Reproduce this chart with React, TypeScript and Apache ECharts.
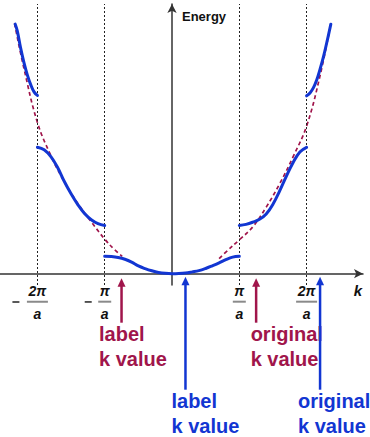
import React, { useEffect, useRef } from "react";
import * as echarts from "echarts";

// Reduced-zone band picture: k in units of π/a, energy in units of the free-electron value at k = π/a
const kOuterLeft = [-2.33, -2.3, -2.25, -2.2, -2.15, -2.1, -2.05, -2.0];
const eOuterLeft = [6.93, 6.75, 6.27, 5.86, 5.52, 5.25, 5.05, 4.95];

const kBand2Left = [-2.0, -1.9, -1.8, -1.7, -1.6, -1.5, -1.4, -1.3, -1.2, -1.1, -1.0];
const eBand2Left = [3.51, 3.44, 3.25, 2.95, 2.56, 2.22, 1.92, 1.67, 1.5, 1.39, 1.34];

const kBand1 = [-1.0, -0.9, -0.8, -0.7, -0.6, -0.5, -0.4, -0.3, -0.2, -0.1, 0, 0.1, 0.2, 0.3, 0.4, 0.5, 0.6, 0.7, 0.8, 0.9, 1.0];
const eBand1 = [0.483, 0.476, 0.45, 0.4, 0.32, 0.215, 0.14, 0.08, 0.035, 0.01, 0, 0.005, 0.02, 0.05, 0.085, 0.145, 0.22, 0.3, 0.39, 0.46, 0.483];

const kBand2Right = [1.0, 1.1, 1.2, 1.3, 1.4, 1.5, 1.6, 1.7, 1.8, 1.9, 2.0];
const eBand2Right = [1.34, 1.37, 1.43, 1.51, 1.66, 1.93, 2.3, 2.71, 3.09, 3.38, 3.51];

const kOuterRight = [2.0, 2.05, 2.1, 2.15, 2.2, 2.25, 2.3, 2.36];
const eOuterRight = [4.94, 5.02, 5.16, 5.38, 5.68, 6.02, 6.42, 6.93];

// Free-electron parabola (dashed), drawn outside the lowest band where it separates from it
const kFreeLeft = [-2.34, -2.2, -2.0, -1.8, -1.6, -1.4, -1.2, -1.0, -0.85, -0.74];
const eFreeLeft = [6.95, 5.7, 4.2, 3.28, 2.55, 1.95, 1.44, 0.96, 0.66, 0.48];
const kFreeRight = [0.7, 0.8, 1.0, 1.2, 1.4, 1.6, 1.8, 2.0, 2.2, 2.36];
const eFreeRight = [0.42, 0.6, 0.94, 1.3, 1.85, 2.5, 3.25, 4.1, 5.5, 6.95];

// Zone boundaries and their labels
const kTicks = [-2, -1, 1, 2];
const tickNumerators = ["2π", "π", "π", "2π"];
const tickDenominator = "a";

// Annotation arrows
const arrowK = [-0.75, 1.25, 0.2, 2.2];
const arrowLines = [
  ["label", "k value"],
  ["original", "k value"],
  ["label", "k value"],
  ["original", "k value"],
];
const arrowKind = ["red", "red", "blue", "blue"];

const BLUE = "#1236D2";
const RED = "#A0154B";
const FONT = '"Liberation Sans", Arial, Helvetica, sans-serif';

const pairs = (ks: number[], es: number[]) => ks.map((k, i) => [k, es[i]]);

const bandSeries = (ks: number[], es: number[]) => ({
  type: "line",
  data: pairs(ks, es),
  smooth: 0.4,
  symbol: "none",
  z: 5,
  lineStyle: { color: BLUE, width: 3, cap: "round", join: "round" },
});

const freeSeries = (ks: number[], es: number[]) => ({
  type: "line",
  data: pairs(ks, es),
  smooth: 0.4,
  symbol: "none",
  z: 3,
  lineStyle: { color: RED, width: 1.7, type: [4, 3] },
});

export default function App() {
  const ref = useRef<HTMLDivElement>(null);

  useEffect(() => {
    if (!ref.current) return;
    const chart = echarts.init(ref.current, null, { renderer: "svg" });

    const option: any = {
      animation: false,
      grid: { left: 0, right: 7, top: 4, bottom: 152, containLabel: false },
      xAxis: {
        type: "value",
        min: -2.556,
        max: 2.838,
        axisLine: {
          show: true,
          onZero: true,
          symbol: ["none", "arrow"],
          symbolSize: [7, 9],
          lineStyle: { color: "#333", width: 1.5 },
        },
        axisTick: { show: false },
        axisLabel: { show: false },
        splitLine: { show: false },
      },
      yAxis: {
        type: "value",
        min: -0.314,
        max: 7.49,
        axisLine: {
          show: true,
          onZero: true,
          symbol: ["none", "arrow"],
          symbolSize: [7, 9],
          lineStyle: { color: "#333", width: 1.5 },
        },
        axisTick: { show: false },
        axisLabel: { show: false },
        splitLine: { show: false },
      },
      series: [
        {
          ...freeSeries(kFreeLeft, eFreeLeft),
          markLine: {
            silent: true,
            symbol: "none",
            label: { show: false },
            lineStyle: { color: "#222", width: 1, type: [2, 2] },
            data: kTicks.map((k) => ({ xAxis: k })),
          },
        },
        freeSeries(kFreeRight, eFreeRight),
        bandSeries(kOuterLeft, eOuterLeft),
        bandSeries(kBand2Left, eBand2Left),
        bandSeries(kBand1, eBand1),
        bandSeries(kBand2Right, eBand2Right),
        bandSeries(kOuterRight, eOuterRight),
      ],
    };
    chart.setOption(option);

    const toPx = (k: number, e: number) => chart.convertToPixel({ gridIndex: 0 }, [k, e]) as number[];
    const origin = toPx(0, 0);
    const axisY = origin[1];
    const graphic: any[] = [];

    // Energy title beside the vertical axis
    graphic.push({
      type: "text",
      x: origin[0] + 10,
      y: 16,
      style: { text: "Energy", font: `bold 13px ${FONT}`, fill: "#111", verticalAlign: "middle", align: "left" },
    });
    // k label at the end of the horizontal axis
    graphic.push({
      type: "text",
      x: 358,
      y: axisY + 17,
      style: { text: "k", font: `italic bold 15px ${FONT}`, fill: "#111", verticalAlign: "middle", align: "center" },
    });

    // Fraction labels at the zone boundaries
    kTicks.forEach((k, i) => {
      const x = toPx(k, 0)[0];
      const num = tickNumerators[i];
      const barW = num.length > 1 ? 21 : 13;
      graphic.push({
        type: "text",
        x,
        y: axisY + 17,
        style: { text: num, font: `italic bold 14px ${FONT}`, fill: "#111", align: "center", verticalAlign: "middle" },
      });
      graphic.push({
        type: "rect",
        shape: { x: x - barW / 2, y: axisY + 27, width: barW, height: 2 },
        style: { fill: "#8a8a8a" },
      });
      graphic.push({
        type: "text",
        x,
        y: axisY + 40,
        style: { text: tickDenominator, font: `italic bold 14px ${FONT}`, fill: "#111", align: "center", verticalAlign: "middle" },
      });
      if (k < 0) {
        graphic.push({
          type: "rect",
          shape: { x: x - (num.length > 1 ? 25 : 20), y: axisY + 27.5, width: 7, height: 1.5 },
          style: { fill: "#222" },
        });
      }
    });

    // Arrows pointing at k values, with their captions
    arrowK.forEach((k, i) => {
      const x = toPx(k, 0)[0];
      const red = arrowKind[i] === "red";
      const color = red ? RED : BLUE;
      const tip = red ? axisY + 4.5 : axisY + 3;
      const bottom = red ? axisY + 49 : axisY + 116;
      const textTop = red ? axisY + 50 : axisY + 117.5;
      const textOffset = [-22.5, -5.5, -14, -22][i];
      graphic.push({
        type: "line",
        shape: { x1: x, y1: bottom, x2: x, y2: tip + 6 },
        style: { stroke: color, lineWidth: 2.5 },
      });
      graphic.push({
        type: "polygon",
        shape: { points: [[x - 4, tip + 8.5], [x, tip], [x + 4, tip + 8.5]] },
        style: { fill: color },
      });
      arrowLines[i].forEach((line, j) => {
        graphic.push({
          type: "text",
          x: x + textOffset,
          y: textTop + j * 25,
          style: { text: line, font: `bold 20px ${FONT}`, fill: color, align: "left", verticalAlign: "top" },
        });
      });
    });

    chart.setOption({ graphic });

    return () => chart.dispose();
  }, []);

  return (
    <div
      ref={ref}
      style={{ position: "absolute", left: 0, top: 0, width: 370, height: 437, background: "#fff" }}
    />
  );
}
